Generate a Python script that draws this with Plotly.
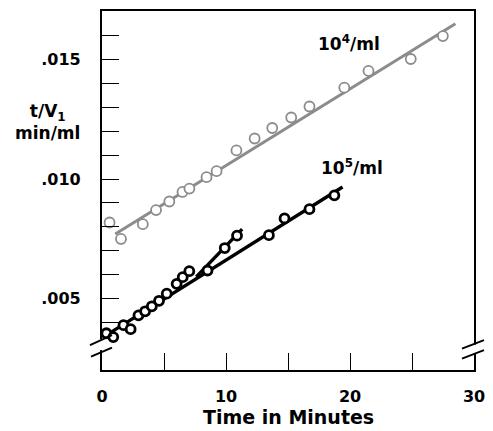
import plotly.graph_objects as go

# 10^4/ml series (grey)
t_1e4 = [0.61, 1.53, 3.29, 4.36, 5.43, 6.49, 7.05, 8.43, 9.24, 10.84,
         12.31, 13.73, 15.26, 16.73, 19.54, 21.49, 24.9, 27.49]
v_1e4 = [0.00818, 0.00749, 0.00811, 0.00870, 0.00906, 0.00946, 0.00960, 0.01008, 0.01033, 0.01120,
         0.01170, 0.01214, 0.01258, 0.01304, 0.01383, 0.01453, 0.01503, 0.01599]
fit_t_1e4 = [1.07, 28.5]
fit_v_1e4 = [0.00770, 0.01651]

# 10^5/ml series (black)
t_1e5 = [0.35, 0.91, 1.73, 2.31, 2.94, 3.48, 4.02, 4.60, 5.22, 6.02,
         6.51, 7.04, 8.51, 9.90, 10.89, 13.46, 14.72, 16.73, 18.74]
v_1e5 = [0.00354, 0.00338, 0.00388, 0.00371, 0.00429, 0.00446, 0.00467, 0.00490, 0.00520, 0.00561,
         0.00589, 0.00614, 0.00617, 0.00711, 0.00763, 0.00765, 0.00835, 0.00874, 0.00932]
fit_t_1e5 = [0.13, 19.4]
fit_v_1e5 = [0.00339, 0.00967]
fit2_t_1e5 = [7.6, 11.3]
fit2_v_1e5 = [0.00590, 0.00790]

x_ticks = [0, 5, 10, 15, 20, 25, 30]
x_text = ['0', '', '10', '', '20', '', '30']
y_ticks = [0.004, 0.005, 0.006, 0.007, 0.008, 0.009, 0.010, 0.011, 0.012, 0.013, 0.014, 0.015, 0.016]
y_text = ['', '.005', '', '', '', '', '.010', '', '', '', '', '.015', '']

GREY = '#8c8c8c'
FONT = 'DejaVu Sans'

fig = go.Figure()
fig.add_trace(go.Scatter(x=fit_t_1e4, y=fit_v_1e4, mode='lines',
                         line=dict(color=GREY, width=3), hoverinfo='skip'))
fig.add_trace(go.Scatter(x=fit_t_1e5, y=fit_v_1e5, mode='lines',
                         line=dict(color='black', width=3.4), hoverinfo='skip'))
fig.add_trace(go.Scatter(x=fit2_t_1e5, y=fit2_v_1e5, mode='lines',
                         line=dict(color='black', width=3.4), hoverinfo='skip'))
fig.add_trace(go.Scatter(x=t_1e4, y=v_1e4, mode='markers', cliponaxis=False,
                         marker=dict(symbol='circle', size=10, color='white',
                                     line=dict(color=GREY, width=1.8))))
fig.add_trace(go.Scatter(x=t_1e5, y=v_1e5, mode='markers', cliponaxis=False,
                         marker=dict(symbol='circle', size=9, color='white',
                                     line=dict(color='black', width=2.8))))

tickfont = dict(family=FONT, size=16, color='black', weight='bold')
fig.update_xaxes(range=[0, 30], tickvals=x_ticks, ticktext=x_text, ticks='inside', ticklen=17,
                 tickwidth=1.2, tickcolor='black', showline=True, linecolor='black', linewidth=2.2,
                 mirror=True, showgrid=False, zeroline=False, tickfont=tickfont, ticklabelstandoff=11)
fig.update_yaxes(range=[0.002, 0.017042], tickvals=y_ticks, ticktext=y_text, ticks='inside', ticklen=17,
                 tickwidth=1.2, tickcolor='black', showline=True, linecolor='black', linewidth=2.2,
                 mirror=True, showgrid=False, zeroline=False, tickfont=tickfont, ticklabelstandoff=16)

# axis break marks, given in page pixels (page has an 8px body margin)
def px(xp, yp):
    return (xp - 102) / 372, (370 - yp) / 361

shapes = []
for (xa, y0, y1) in [(102, 339, 350), (474, 344.5, 353.5)]:
    a = px(xa - 5, y1)
    b = px(xa + 5, y0)
    shapes.append(dict(type='rect', xref='paper', yref='paper', x0=a[0], y0=a[1], x1=b[0], y1=b[1],
                       fillcolor='white', line=dict(width=0), layer='above'))
for (p0, p1) in [((90, 345), (112, 335)), ((91, 356.5), (112, 347.5)),
                 ((462, 348.5), (484, 340)), ((462, 358.5), (484, 350))]:
    a = px(*p0)
    b = px(*p1)
    shapes.append(dict(type='line', xref='paper', yref='paper', x0=a[0], y0=a[1], x1=b[0], y1=b[1],
                       line=dict(color='black', width=2), layer='above'))

lab = dict(family=FONT, size=17, color='black', weight='bold')
ytitle_pos = px(47, 121)
xtitle_pos = px(288, 417)
fig.update_layout(
    width=485, height=423,
    margin=dict(l=94, r=19, t=1, b=61),
    paper_bgcolor='white', plot_bgcolor='white',
    showlegend=False,
    shapes=shapes,
    annotations=[
        dict(text='10<sup>4</sup>/ml', x=19.9, y=0.01571, xref='x', yref='y', showarrow=False, font=lab),
        dict(text='10<sup>5</sup>/ml', x=20.2, y=0.0105, xref='x', yref='y', showarrow=False, font=lab),
        dict(text='t/V<sub>1</sub><br>min/ml', x=ytitle_pos[0], y=ytitle_pos[1],
             xanchor='center', yanchor='middle',
             xref='paper', yref='paper', showarrow=False, font=lab),
        dict(text='Time in Minutes', x=xtitle_pos[0], y=xtitle_pos[1], xanchor='center', yanchor='middle',
             xref='paper', yref='paper', showarrow=False,
             font=dict(family=FONT, size=19, color='black', weight='bold')),
    ],
)

fig.write_html("out.html")
